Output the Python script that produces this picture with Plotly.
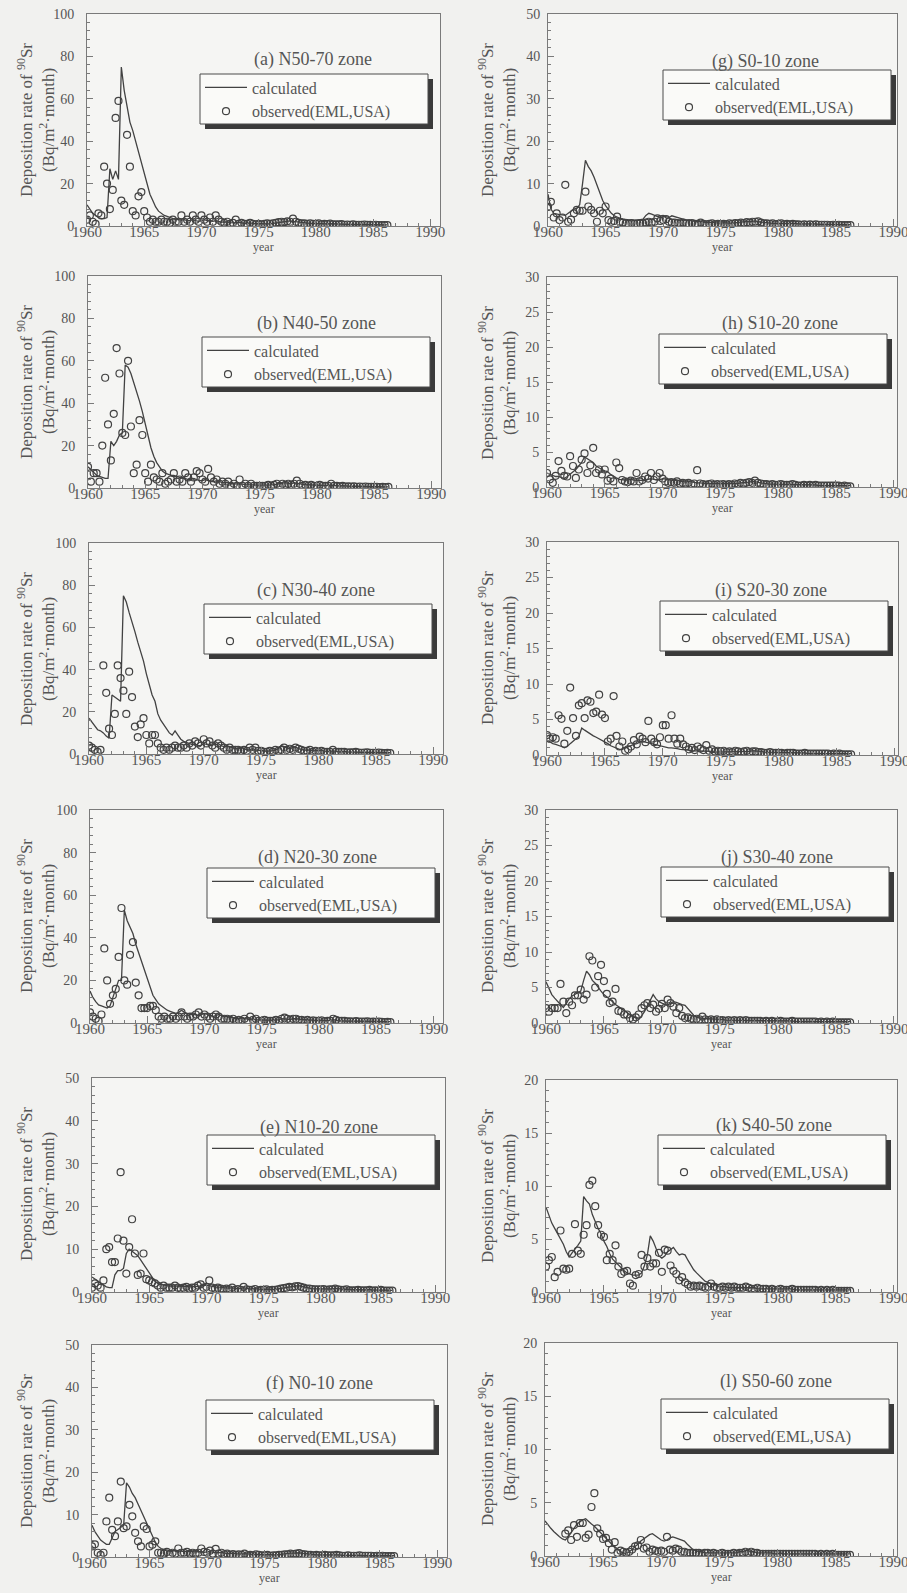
import plotly.graph_objects as go

# ---------------------------------------------------------------- data
# quarterly sampling times 1960.00 ... 1986.25 (106 samples)
YEARS = [1960 + q / 4 for q in range(106)]

ZONES = ["(a) N50-70 zone", "(b) N40-50 zone", "(c) N30-40 zone",
         "(d) N20-30 zone", "(e) N10-20 zone", "(f) N0-10 zone",
         "(g) S0-10 zone", "(h) S10-20 zone", "(i) S20-30 zone",
         "(j) S30-40 zone", "(k) S40-50 zone", "(l) S50-60 zone"]

Y_MAX = [100, 100, 100, 100, 50, 50, 50, 30, 30, 30, 20, 20]
Y_STEP = [20, 20, 20, 20, 10, 10, 10, 5, 5, 5, 5, 5]
X_TICKS = [1960, 1965, 1970, 1975, 1980, 1985, 1990]

CALC_A = [10, 8, 6, 5, 4, 3.5, 3.5, 4,
          27, 22, 26, 22, 75, 64, 56, 49,
          45, 40, 34, 30, 25, 20, 15, 12,
          9, 7, 6, 5, 4.5, 4, 3.5, 3,
          3, 2.8, 3, 2.5, 2.5, 3, 2.5, 2.2,
          2.5, 3, 2.5, 2.2, 2.2, 2.5, 2, 1.8,
          1.8, 2, 1.6, 1.5, 1.5, 1.7, 1.4, 1.3,
          1.3, 1.5, 1.2, 1.1, 1.1, 1.2, 1, 1,
          1, 1.2, 1.4, 1.6, 1.8, 2, 2.2, 2.4,
          2.2, 2, 1.7, 1.5, 1.4, 1.3, 1.2, 1.2,
          1.1, 1.2, 1, 1, 1, 1.1, 1, 0.9,
          0.9, 1, 0.8, 0.8, 0.8, 0.9, 0.7, 0.7,
          0.7, 0.8, 0.6, 0.6, 0.6, 0.7, 0.5, 0.5,
          0.5, 0.5]
OBS_A = [3, 5, 2, 1, 6, 5, 28, 20,
         8, 17, 51, 59, 12, 10, 43, 28,
         7, 5, 14, 16, 7, 4, 2, 3,
         2, 2, 3, 2, 2, 1.5, 3, 2,
         2, 5, 2, 3, 2, 5, 3, 2,
         5, 3, 2, 4, 2, 5, 3, 2,
         1.5, 2, 1, 1.5, 3, 1, 1.5, 1,
         1, 1.5, 1, 0.8, 1, 0.8, 1, 1.2,
         1, 1.3, 1.5, 1.8, 2, 1.8, 2.2, 2,
         3.5, 2, 1.5, 1.2, 1.2, 1, 1.3, 1,
         1, 1.2, 0.8, 1, 0.9, 1.1, 0.8, 0.8,
         0.8, 0.9, 0.6, 0.7, 0.6, 0.8, 0.5, 0.6,
         0.5, 0.7, 0.5, 0.5, 0.4, 0.6, 0.4, 0.4,
         0.4, 0.4]

CALC_B = [10, 8.5, 7, 6, 5.5, 5, 4.5, 4.5,
          22, 20, 22, 25, 26, 58, 57, 54,
          50, 46, 41, 36, 30, 24, 19, 15,
          12, 10, 8, 7, 6.5, 6, 6, 5.5,
          5, 5, 4.5, 4, 4, 4.5, 4, 3.5,
          3.5, 4, 3.5, 3, 3, 3.5, 3, 2.5,
          2.5, 2.5, 2, 2, 2, 2, 1.8, 1.6,
          1.6, 1.8, 1.5, 1.4, 1.4, 1.5, 1.3, 1.2,
          1.5, 1.6, 1.8, 2, 2.2, 2.5, 2.2, 2,
          2.5, 2.2, 1.8, 1.6, 1.5, 1.6, 1.4, 1.3,
          1.3, 1.4, 1.2, 1.1, 1.2, 1.4, 1.2, 1,
          1, 1.1, 0.9, 0.8, 0.8, 0.9, 0.8, 0.7,
          0.7, 0.8, 0.7, 0.6, 0.6, 0.7, 0.6, 0.5,
          0.5, 0.5]
OBS_B = [10, 3, 7, 7, 3, 20, 52, 30,
         13, 35, 66, 54, 26, 25, 60, 29,
         7, 11, 32, 25, 7, 3, 11, 5,
         4, 3, 7, 2, 3, 4, 7, 3,
         4, 3, 7, 5, 3, 5, 8, 7,
         4, 3, 9, 5, 3, 4, 2, 3,
         2, 3, 1, 2, 1, 4, 1, 2,
         1, 2, 1, 1, 1, 1, 1, 1.5,
         1, 1.5, 2, 1, 2, 1.5, 2, 1.5,
         2, 3.5, 2, 1, 1.5, 1, 1.5, 1,
         1, 1.5, 1, 1, 1, 2, 1, 1,
         0.8, 1, 0.7, 0.8, 0.7, 0.8, 0.6, 0.7,
         0.6, 0.7, 0.5, 0.6, 0.5, 0.6, 0.4, 0.5,
         0.4, 0.5]

CALC_C = [17, 15, 13, 11.5, 11, 10, 8.5, 7.5,
          28, 27, 26, 25, 75, 72, 67, 63,
          58, 53, 49, 44, 38, 33, 28, 25,
          19, 16, 14, 12, 10, 9, 11, 9,
          7, 6, 5.5, 5, 4.5, 4.5, 4, 4,
          5, 4.5, 4, 4, 6, 5, 4, 3.5,
          4, 3.5, 3, 2.5, 2.5, 3, 2.5, 2,
          2, 2.5, 2, 1.8, 1.5, 1.5, 1.3, 1.5,
          1.5, 2, 2.5, 4, 3.5, 3, 2.5, 3,
          3.5, 2.5, 2, 1.8, 1.8, 2, 1.5, 1.5,
          1.5, 1.8, 1.4, 1.2, 1.2, 1.5, 1.2, 1,
          1, 1.2, 1, 0.9, 0.9, 1, 0.8, 0.8,
          0.8, 0.9, 0.7, 0.7, 0.7, 0.8, 0.6, 0.6,
          0.6, 0.6]
OBS_C = [4, 3, 2, 1, 2, 42, 29, 12,
         9, 19, 42, 36, 30, 19, 39, 27,
         13, 8, 14, 17, 9, 5, 9, 9,
         5, 3, 2, 3, 2, 3, 4, 3,
         3, 4, 3, 5, 4, 6, 5, 4,
         7, 5, 6, 4, 3, 5, 4, 3,
         2, 3, 2, 2, 2, 1.5, 2, 1.5,
         3, 2, 3, 1.5, 1.5, 1, 1, 1.5,
         1, 2, 1.5, 2, 3, 2, 2.5, 2,
         3, 2.5, 2, 1.5, 1.5, 2, 1, 1.5,
         1, 1.5, 1, 1, 1, 2, 1, 1,
         1, 1, 0.7, 0.8, 0.8, 1, 0.7, 0.6,
         0.7, 0.8, 0.6, 0.6, 0.5, 0.7, 0.5, 0.4,
         0.5, 0.4]

CALC_D = [15, 12, 10, 8.5, 8, 7.5, 7, 8,
          12, 16, 20, 20, 53, 48, 45, 42,
          37, 33, 29, 24, 20, 16, 13, 11,
          9, 8, 7, 6, 5.5, 5, 4.5, 5,
          6, 5, 4.5, 4, 4, 4, 3.5, 4,
          4.5, 4, 3.5, 3, 3.5, 4, 3.5, 3,
          3, 2.5, 2.5, 2, 2, 2.5, 2, 1.8,
          1.8, 2, 1.5, 1.5, 1.4, 1.5, 1.2, 1.3,
          1.3, 1.5, 1.5, 2, 2, 1.8, 1.6, 2,
          2, 1.8, 1.5, 1.4, 1.4, 1.5, 1.2, 1.2,
          1.2, 1.4, 1.1, 1, 1.2, 1.6, 1.2, 1,
          1, 1.1, 0.9, 0.9, 0.9, 1, 0.8, 0.8,
          0.8, 0.9, 0.7, 0.7, 0.7, 0.8, 0.6, 0.6,
          0.6, 0.6]
OBS_D = [5, 3, 2, 1, 4, 35, 20, 9,
         13, 16, 31, 54, 20, 18, 32, 38,
         19, 13, 7, 7, 7, 8, 8, 6,
         3, 2, 3, 2, 2, 3, 2, 3,
         5, 3, 2, 3, 3, 4, 5, 3,
         4, 3, 2, 3, 4, 3, 2, 2,
         2, 1.5, 2, 1, 1.5, 1, 2, 1,
         3, 1.5, 2, 1, 1, 1.5, 1, 1,
         1, 1.5, 1, 2, 2.5, 2, 1.5, 2,
         2, 1.5, 1.5, 1, 1.5, 1, 1.2, 1,
         1, 1.2, 0.8, 1, 1, 2, 1.5, 1,
         1, 1, 0.8, 0.8, 0.7, 0.9, 0.6, 0.7,
         0.6, 0.8, 0.5, 0.6, 0.5, 0.7, 0.5, 0.4,
         0.5, 0.4]

CALC_E = [3.5, 3, 2.5, 2, 1.5, 1.2, 1, 1,
          4, 5, 5, 5.5, 9, 10, 9.5, 9,
          8.5, 7.5, 6.5, 5.5, 4.5, 3.5, 2.5, 2,
          1.8, 1.6, 1.5, 1.4, 1.4, 1.5, 1.4, 1.3,
          1.3, 1.4, 1.2, 1.2, 1.2, 1.3, 1.4, 1.5,
          1.6, 1.5, 1.3, 1.2, 1.1, 1.2, 1, 0.9,
          0.9, 1, 0.8, 0.8, 0.8, 1, 0.8, 0.7,
          0.7, 0.8, 0.7, 0.6, 0.6, 0.7, 0.6, 0.6,
          0.6, 0.7, 0.8, 1, 1.1, 1.2, 1.3, 1.4,
          1.5, 1.4, 1.2, 1, 0.9, 0.8, 0.8, 0.7,
          0.7, 0.8, 0.7, 0.7, 0.7, 0.9, 0.8, 0.7,
          0.6, 0.7, 0.6, 0.6, 0.5, 0.6, 0.5, 0.5,
          0.5, 0.6, 0.5, 0.5, 0.4, 0.5, 0.4, 0.4,
          0.4, 0.4]
OBS_E = [1, 2, 1.5, 1, 2.7, 10, 10.5, 7,
         7, 12.5, 28, 12, 4.3, 10.5, 17, 9,
         4, 4.3, 9, 3, 2.7, 2.3, 2, 1.5,
         1, 1.5, 1, 1, 1, 1.5, 1, 0.8,
         1, 1.2, 0.8, 1, 1, 1.5, 1.8, 1,
         1.2, 2.7, 1, 0.8, 1, 0.8, 0.6, 0.8,
         0.6, 1, 0.5, 0.7, 0.5, 1.2, 0.6, 0.5,
         0.5, 0.7, 0.4, 0.5, 0.5, 0.6, 0.4, 0.5,
         0.5, 0.6, 0.8, 0.9, 1, 1.2, 1.1, 1.3,
         1.4, 1.2, 1, 0.8, 0.8, 0.7, 0.6, 0.6,
         0.6, 0.7, 0.5, 0.6, 0.6, 0.8, 0.6, 0.5,
         0.5, 0.6, 0.4, 0.4, 0.4, 0.5, 0.4, 0.4,
         0.4, 0.5, 0.3, 0.4, 0.3, 0.5, 0.3, 0.3,
         0.3, 0.3]

CALC_F = [7.5, 6, 5, 4, 3.5, 3, 3, 4.5,
          6, 6.5, 7, 7.5, 17.5, 16.5, 15, 14,
          12.5, 11, 9.5, 8, 6.5, 5, 3.5, 2.5,
          2, 1.8, 1.6, 1.5, 1.5, 1.4, 1.5, 1.4,
          1.3, 1.4, 1.3, 1.2, 1.2, 1.3, 1.2, 1.1,
          1.2, 1.3, 1.1, 1, 1, 1.1, 0.9, 0.8,
          0.8, 0.9, 0.8, 0.7, 0.7, 0.8, 0.7, 0.6,
          0.6, 0.7, 0.6, 0.6, 0.5, 0.6, 0.5, 0.5,
          0.5, 0.6, 0.6, 0.7, 0.8, 0.9, 0.9, 1,
          1, 0.9, 0.8, 0.7, 0.6, 0.6, 0.5, 0.5,
          0.5, 0.6, 0.5, 0.5, 0.5, 0.6, 0.5, 0.4,
          0.4, 0.5, 0.4, 0.4, 0.4, 0.4, 0.3, 0.3,
          0.3, 0.4, 0.3, 0.3, 0.3, 0.3, 0.3, 0.3,
          0.3, 0.3]
OBS_F = [2.5, 3, 1, 0.5, 1, 8.4, 14, 6.4,
         4.9, 8.4, 17.8, 6.8, 7.2, 12.3, 9.6, 5.7,
         3.7, 2.5, 7.2, 6.6, 2.5, 2.9, 3.7, 1,
         1, 0.8, 1.2, 0.6, 1, 0.8, 2, 1,
         1, 1.2, 0.8, 1, 0.8, 1, 2, 1.2,
         1, 1.5, 0.8, 1.9, 0.8, 1, 0.6, 0.8,
         0.5, 0.7, 0.5, 0.6, 0.5, 0.8, 0.4, 0.5,
         0.4, 0.6, 0.5, 0.4, 0.4, 0.5, 0.3, 0.4,
         0.4, 0.5, 0.5, 0.6, 0.6, 0.8, 0.7, 0.8,
         0.9, 0.7, 0.6, 0.5, 0.5, 0.4, 0.5, 0.4,
         0.4, 0.5, 0.4, 0.4, 0.4, 0.5, 0.4, 0.3,
         0.3, 0.4, 0.3, 0.3, 0.3, 0.4, 0.3, 0.3,
         0.3, 0.3, 0.2, 0.3, 0.2, 0.3, 0.2, 0.2,
         0.2, 0.2]

CALC_G = [7.5, 4, 3, 2.8, 2.7, 2.6, 2.5, 3,
          3.5, 4, 4.2, 5, 10, 15.5, 14, 13,
          11.5, 9.5, 7.5, 6, 4.8, 3.8, 3, 2.4,
          2, 1.8, 1.6, 1.5, 1.5, 1.4, 1.4, 1.3,
          1.5, 1.6, 2.5, 3, 2.8, 2.5, 2.2, 2.4,
          2.5, 2.2, 2, 2.4, 2.2, 2, 1.8, 1.5,
          1.4, 1.5, 1.2, 1.1, 1, 1.1, 0.9, 0.8,
          0.8, 0.9, 0.8, 0.7, 0.7, 0.8, 0.7, 0.7,
          0.7, 0.8, 0.8, 0.9, 1, 1.1, 1, 1.1,
          1.2, 1, 0.9, 0.8, 0.7, 0.7, 0.6, 0.6,
          0.6, 0.7, 0.6, 0.6, 0.6, 0.7, 0.6, 0.5,
          0.5, 0.6, 0.5, 0.5, 0.5, 0.5, 0.4, 0.4,
          0.4, 0.5, 0.4, 0.4, 0.4, 0.4, 0.3, 0.3,
          0.3, 0.3]
OBS_G = [4.5, 5.7, 2, 3, 1.4, 2, 9.7, 1,
         1.5, 3, 3.8, 3.6, 3.6, 8.1, 4.6, 3.8,
         3, 1, 3.6, 3, 4.6, 1.4, 1, 1.2,
         2.2, 1, 0.8, 0.6, 0.5, 0.7, 0.5, 0.6,
         0.7, 0.6, 0.8, 1, 0.8, 1, 1.8, 1.2,
         1.4, 1.6, 1, 0.8, 0.8, 0.7, 0.6, 0.8,
         0.6, 0.5, 0.7, 0.5, 0.5, 0.8, 0.5, 0.4,
         0.5, 0.6, 0.4, 0.5, 0.4, 0.5, 0.4, 0.6,
         0.5, 0.7, 0.6, 0.8, 0.7, 0.9, 0.8, 1,
         1, 1.1, 0.8, 0.6, 0.6, 0.5, 0.6, 0.4,
         0.5, 0.6, 0.4, 0.5, 0.4, 0.5, 0.4, 0.4,
         0.3, 0.4, 0.3, 0.4, 0.3, 0.4, 0.3, 0.3,
         0.3, 0.3, 0.2, 0.3, 0.2, 0.3, 0.2, 0.2,
         0.2, 0.2]

CALC_H = [2, 1.8, 1.6, 1.5, 1.5, 1.4, 1.2, 1.5,
          1.8, 2.2, 2.5, 3, 3.5, 4.3, 4, 3.8,
          3.5, 3, 2.7, 2.5, 2.3, 2.2, 1.8, 1.5,
          1.3, 1.1, 1, 1, 1, 1.1, 1, 1,
          1, 1, 0.9, 1.1, 1.2, 1.1, 1, 1,
          1.2, 1.1, 1, 0.9, 0.9, 1, 0.8, 0.8,
          0.7, 0.8, 0.7, 0.6, 0.6, 0.6, 0.5, 0.5,
          0.5, 0.5, 0.4, 0.4, 0.4, 0.4, 0.4, 0.4,
          0.4, 0.5, 0.5, 0.6, 0.6, 0.7, 0.7, 0.8,
          0.8, 0.7, 0.6, 0.5, 0.5, 0.4, 0.4, 0.4,
          0.4, 0.4, 0.4, 0.3, 0.3, 0.4, 0.3, 0.3,
          0.3, 0.3, 0.3, 0.3, 0.3, 0.3, 0.2, 0.2,
          0.2, 0.3, 0.2, 0.2, 0.2, 0.2, 0.2, 0.2,
          0.2, 0.2]
OBS_H = [2, 1.1, 0.6, 1.6, 3.7, 2.3, 1.6, 1.5,
         4.4, 3, 1.3, 2.5, 3.9, 4.8, 2, 3.1,
         5.6, 2, 2.5, 1.8, 2.5, 0.9, 1.2, 0.8,
         3.5, 2.7, 1, 0.8, 0.7, 0.9, 0.8, 2,
         0.8, 1, 1.5, 1.2, 2, 1, 1.5, 2,
         1.2, 0.8, 0.6, 0.7, 0.6, 0.8, 0.5, 0.6,
         0.5, 0.6, 0.4, 0.5, 2.4, 0.5, 0.4, 0.3,
         0.4, 0.5, 0.3, 0.4, 0.3, 0.4, 0.3, 0.4,
         0.3, 0.5, 0.4, 0.6, 0.5, 0.6, 0.7, 0.6,
         0.9, 0.6, 0.5, 0.4, 0.4, 0.3, 0.4, 0.3,
         0.3, 0.4, 0.3, 0.3, 0.3, 0.4, 0.3, 0.2,
         0.2, 0.3, 0.2, 0.3, 0.2, 0.3, 0.2, 0.2,
         0.2, 0.2, 0.2, 0.2, 0.2, 0.2, 0.1, 0.2,
         0.1, 0.1]

CALC_I = [2.1, 1.8, 1.6, 1.5, 1.4, 1.2, 1, 1.2,
          1.6, 2, 2.3, 2.6, 3.8, 3.5, 3.2, 3,
          2.7, 2.5, 2.3, 2.1, 1.9, 1.6, 1.3, 1.1,
          0.9, 0.8, 0.8, 1, 1.1, 1.3, 1.5, 1.6,
          1.8, 2, 1.8, 1.7, 1.6, 1.5, 1.3, 1.2,
          1.2, 1.1, 1, 1, 1, 0.9, 0.8, 0.8,
          0.7, 0.7, 0.6, 0.6, 0.6, 0.6, 0.5, 0.5,
          0.5, 0.5, 0.4, 0.4, 0.4, 0.4, 0.4, 0.4,
          0.4, 0.4, 0.4, 0.5, 0.5, 0.5, 0.5, 0.6,
          0.6, 0.5, 0.5, 0.4, 0.4, 0.4, 0.3, 0.3,
          0.3, 0.3, 0.3, 0.3, 0.3, 0.3, 0.3, 0.3,
          0.3, 0.3, 0.2, 0.2, 0.2, 0.2, 0.2, 0.2,
          0.2, 0.2, 0.2, 0.2, 0.2, 0.2, 0.2, 0.2,
          0.2, 0.2]
OBS_I = [2.8, 2.3, 2.5, 2.3, 5.6, 5.1, 1.6, 3.4,
         9.5, 5.2, 2.7, 7, 7.3, 5.2, 7.7, 7.5,
         5.9, 6.1, 8.5, 5.7, 5.2, 1.9, 2.3, 8.3,
         2.7, 1.2, 1.9, 0.6, 0.8, 1.2, 2.1, 1.5,
         2.6, 2.3, 1.8, 4.8, 2.3, 1.8, 1.5, 2.5,
         4.2, 4.2, 2.3, 5.6, 2.3, 1.6, 2.3, 1.5,
         1.2, 0.8, 1, 0.7, 1.2, 0.9, 0.7, 1.4,
         0.6, 0.8, 0.5, 0.6, 0.5, 0.6, 0.4, 0.5,
         0.4, 0.6, 0.5, 0.4, 0.5, 0.6, 0.4, 0.5,
         0.5, 0.4, 0.4, 0.3, 0.3, 0.4, 0.3, 0.3,
         0.3, 0.3, 0.2, 0.3, 0.3, 0.3, 0.2, 0.2,
         0.2, 0.3, 0.2, 0.2, 0.2, 0.2, 0.2, 0.2,
         0.2, 0.2, 0.1, 0.2, 0.1, 0.2, 0.1, 0.1,
         0.1, 0.1]

CALC_J = [5.8, 4.8, 4, 3.5, 3, 2.6, 2.2, 2.8,
          3.4, 3.8, 4, 4.2, 4.5, 6, 7.3, 6.8,
          6, 5.6, 5, 4.5, 4, 3.7, 3.4, 3,
          2.6, 2.3, 2, 1.7, 1.4, 1.1, 0.9, 0.7,
          0.5, 1, 1.6, 2.4, 3.2, 4, 3.4, 3,
          2.8, 2.6, 2.5, 2.8, 3, 2.9, 2.7, 2.6,
          2.5, 2, 1.5, 1.1, 0.8, 0.7, 0.6, 0.6,
          0.6, 0.6, 0.5, 0.5, 0.5, 0.5, 0.4, 0.4,
          0.4, 0.4, 0.4, 0.4, 0.4, 0.4, 0.4, 0.4,
          0.4, 0.3, 0.3, 0.3, 0.3, 0.3, 0.3, 0.3,
          0.3, 0.3, 0.3, 0.3, 0.3, 0.3, 0.2, 0.2,
          0.2, 0.2, 0.2, 0.2, 0.2, 0.2, 0.2, 0.2,
          0.2, 0.2, 0.2, 0.2, 0.2, 0.2, 0.2, 0.2,
          0.2, 0.2]
OBS_J = [2.1, 1.6, 2.1, 2.1, 2.1, 5.5, 3, 1.4,
         3, 2.5, 3.9, 3.9, 4.7, 3.3, 4, 9.4,
         8.8, 5, 6.6, 8.2, 5.9, 4.1, 2.8, 3,
         4.8, 1.7, 1.6, 1.2, 1.2, 0.7, 0.5, 0.8,
         1.2, 2.1, 2.5, 2.8, 2.1, 2.6, 1.6, 2,
         2.7, 2.1, 3.3, 2.8, 2.3, 1.4, 2.1, 1,
         0.7, 0.8, 0.6, 0.5, 0.6, 0.5, 0.9, 0.5,
         0.4, 0.5, 0.4, 0.5, 0.4, 0.4, 0.3, 0.4,
         0.3, 0.4, 0.3, 0.4, 0.3, 0.4, 0.3, 0.3,
         0.3, 0.3, 0.3, 0.2, 0.3, 0.2, 0.3, 0.2,
         0.2, 0.3, 0.2, 0.2, 0.2, 0.3, 0.2, 0.2,
         0.2, 0.2, 0.2, 0.2, 0.2, 0.2, 0.1, 0.2,
         0.1, 0.2, 0.1, 0.2, 0.1, 0.1, 0.1, 0.1,
         0.1, 0.1]

CALC_K = [8, 7.2, 6.5, 6, 5.5, 5, 4.5, 3.8,
          3.3, 3.7, 4, 4.4, 4.8, 9, 8.6, 8.3,
          7.3, 6.6, 6, 5.5, 4.8, 4.3, 3.6, 3.1,
          2.8, 2.5, 2.2, 2, 1.8, 1.7, 1.6, 1.6,
          1.6, 1.8, 2.5, 3.5, 5.3, 4.8, 4, 3.4,
          3.2, 3.4, 3.8, 4, 4.2, 3.8, 3.5, 3.6,
          3.5, 3, 2.5, 2.1, 1.8, 1.5, 1.2, 1,
          0.9, 0.8, 0.7, 0.6, 0.5, 0.5, 0.5, 0.4,
          0.4, 0.4, 0.4, 0.4, 0.4, 0.4, 0.4, 0.4,
          0.4, 0.3, 0.3, 0.3, 0.3, 0.3, 0.3, 0.3,
          0.3, 0.3, 0.3, 0.3, 0.3, 0.3, 0.2, 0.2,
          0.2, 0.2, 0.2, 0.2, 0.2, 0.2, 0.2, 0.2,
          0.2, 0.2, 0.2, 0.2, 0.2, 0.2, 0.2, 0.2,
          0.2, 0.2]
OBS_K = [2.4, 3, 3.3, 1.4, 1.9, 5.8, 2.2, 2.1,
         2.2, 3.6, 6.4, 3.9, 3.6, 5.4, 6.3, 10.1,
         10.5, 8.1, 6.3, 5.4, 5.2, 3, 3.6, 3,
         4.4, 2.4, 1.7, 1.9, 2, 0.8, 0.6, 1.6,
         1.7, 3.5, 2.4, 3.2, 2.4, 2.7, 2.7, 3.7,
         1.9, 4, 3.9, 2.5, 2, 1.7, 1.1, 1.4,
         0.9, 0.7, 0.5, 0.6, 0.5, 0.6, 0.5, 0.4,
         0.5, 0.8, 0.5, 0.4, 0.4, 0.5, 0.4, 0.5,
         0.4, 0.5, 0.4, 0.4, 0.4, 0.5, 0.4, 0.3,
         0.3, 0.4, 0.3, 0.3, 0.3, 0.2, 0.3, 0.2,
         0.2, 0.3, 0.2, 0.2, 0.2, 0.3, 0.2, 0.2,
         0.2, 0.2, 0.2, 0.2, 0.2, 0.2, 0.1, 0.2,
         0.1, 0.2, 0.1, 0.2, 0.1, 0.1, 0.1, 0.1,
         0.1, 0.1]

CALC_L = [3.3, 2.9, 2.6, 2.3, 2, 1.8, 1.6, 1.5,
          1.8, 2.2, 2.6, 3, 3.2, 3.4, 3.5, 3.2,
          3, 2.8, 2.5, 2.2, 2, 1.7, 1.4, 1.1,
          0.9, 0.6, 0.4, 0.3, 0.2, 0.4, 0.6, 0.9,
          1.1, 1.4, 1.6, 1.8, 2, 2.1, 1.9, 1.7,
          1.5, 1.4, 1.5, 1.7, 1.8, 1.7, 1.6, 1.5,
          1.4, 1.1, 0.8, 0.6, 0.5, 0.4, 0.4, 0.3,
          0.3, 0.3, 0.3, 0.3, 0.3, 0.3, 0.3, 0.3,
          0.3, 0.3, 0.3, 0.4, 0.4, 0.5, 0.5, 0.4,
          0.4, 0.3, 0.3, 0.3, 0.3, 0.3, 0.3, 0.2,
          0.2, 0.3, 0.2, 0.2, 0.2, 0.2, 0.2, 0.2,
          0.2, 0.2, 0.2, 0.2, 0.2, 0.2, 0.2, 0.2,
          0.2, 0.2, 0.2, 0.2, 0.2, 0.2, 0.2, 0.2,
          0.2, 0.2]
OBS_L = [None, None, None, None, None, None, None, 2.1,
         2.4, 1.5, 2.9, 1.8, 3.1, 3.1, 1.7, 2,
         4.6, 5.9, 2.6, 2.1, 1.6, 1.7, 1.2, 0.6,
         1.3, 0.3, 0.5, 0.4, 0.3, 0.4, 0.6, 0.9,
         1, 1.5, 0.7, 0.8, 0.4, 0.6, 0.5, 0.4,
         0.5, 0.4, 1.8, 0.6, 0.5, 0.7, 0.6, 0.4,
         0.4, 0.3, 0.3, 0.3, 0.3, 0.3, 0.2, 0.3,
         0.3, 0.2, 0.3, 0.2, 0.2, 0.3, 0.2, 0.2,
         0.2, 0.3, 0.2, 0.3, 0.3, 0.4, 0.3, 0.4,
         0.3, 0.3, 0.2, 0.2, 0.2, 0.2, 0.2, 0.2,
         0.2, 0.2, 0.2, 0.2, 0.2, 0.2, 0.2, 0.2,
         0.2, 0.2, 0.2, 0.2, 0.2, 0.2, 0.1, 0.2,
         0.1, 0.2, 0.1, 0.2, 0.1, 0.1, 0.1, 0.1,
         0.1, 0.1]

CALC = [CALC_A, CALC_B, CALC_C, CALC_D, CALC_E, CALC_F,
        CALC_G, CALC_H, CALC_I, CALC_J, CALC_K, CALC_L]
OBS = [OBS_A, OBS_B, OBS_C, OBS_D, OBS_E, OBS_F,
       OBS_G, OBS_H, OBS_I, OBS_J, OBS_K, OBS_L]

CALC_NAME = "calculated"
OBS_NAME = "observed(EML,USA)"

# ---------------------------------------------------------------- layout (pixels)
W, H = 907, 1593
# plot frame: left, right, top, bottom
BOX = [(87, 440, 14, 226), (88, 441, 276, 488), (89, 443, 543, 754),
       (90, 443, 810, 1023), (92, 445, 1078, 1292), (92, 447, 1345, 1557),
       (548, 897, 14, 226), (547, 897, 277, 487), (547, 898, 542, 755),
       (546, 897, 810, 1023), (546, 897, 1080, 1292), (545, 897, 1343, 1556)]
TITLE_XY = [(313, 60), (316, 323), (316, 590), (317, 858), (319, 1127), (319, 1383),
            (765, 62), (780, 323), (771, 590), (777, 858), (774, 1125), (776, 1381)]
# legend frame (top-left corner)
LEGEND_XY = [(200, 74), (202, 337), (204, 604), (207, 868), (207, 1135), (206, 1400),
             (663, 70), (659, 334), (660, 601), (661, 867), (658, 1135), (661, 1399)]
LEG_W, LEG_H = 228, 50
SHADOW = 5

FONT = "Liberation Serif"
TEXT = "#555555"
INK = "#424242"
AXC = "#7a7a7a"
PAPER = "#f1f1ef"
PLOTBG = "#f5f5f3"

fig = go.Figure()
shapes, annotations = [], []
lay = {}


def px(xp):
    return xp / W


def py(yp):
    return 1 - yp / H


for i in range(12):
    n = i + 1
    xa = "x" if n == 1 else f"x{n}"
    ya = "y" if n == 1 else f"y{n}"
    lg = "legend" if n == 1 else f"legend{n}"
    l, r, t, b = BOX[i]
    right_col = i >= 6

    fig.add_trace(go.Scatter(
        x=YEARS, y=CALC[i], mode="lines", name=CALC_NAME,
        line=dict(color=INK, width=1.3), xaxis=xa, yaxis=ya, legend=lg,
        hoverinfo="skip"))
    fig.add_trace(go.Scatter(
        x=YEARS, y=OBS[i], mode="markers", name=OBS_NAME,
        marker=dict(symbol="circle-open", size=7, color=INK, line=dict(width=1.2)),
        xaxis=xa, yaxis=ya, legend=lg, hoverinfo="skip"))

    lay["xaxis" if n == 1 else f"xaxis{n}"] = dict(
        domain=[px(l), px(r)], anchor=ya, automargin=False,
        range=[1960, 1990.3 if right_col else 1990.85],
        tickmode="array", tickvals=X_TICKS,
        ticks="inside", ticklen=7, tickwidth=1, tickcolor=AXC,
        minor=dict(ticks="inside", ticklen=3.5, dtick=1, tick0=1960, tickcolor=AXC),
        showline=True, mirror=True, linecolor=AXC, linewidth=1,
        showgrid=False, zeroline=False,
        tickfont=dict(family=FONT, size=15, color=TEXT),
        ticklabelstandoff=-8, ticklabeloverflow="allow")
    ymax, ystep = Y_MAX[i], Y_STEP[i]
    lay["yaxis" if n == 1 else f"yaxis{n}"] = dict(
        domain=[py(b), py(t)], anchor=xa, range=[0, ymax], automargin=False,
        tickmode="linear", tick0=0, dtick=ystep,
        ticks="inside", ticklen=6, tickwidth=1, tickcolor=AXC,
        minor=dict(ticks="inside", ticklen=3, dtick=ystep / 5, tick0=0, tickcolor=AXC),
        showline=True, mirror=True, linecolor=AXC, linewidth=1,
        showgrid=False, zeroline=False,
        tickfont=dict(family=FONT, size=14, color=TEXT),
        ticklabelstandoff=4 if right_col else 9, ticklabeloverflow="allow")

    # legend frame with drop shadow, legend entries drawn on top of it
    bx, by = LEGEND_XY[i]
    shapes.append(dict(
        type="rect", xref="paper", yref="paper", layer="above",
        x0=px(bx + SHADOW), x1=px(bx + LEG_W + SHADOW),
        y0=py(by + LEG_H + SHADOW), y1=py(by + SHADOW),
        fillcolor="#3a3a3a", line=dict(width=0)))
    shapes.append(dict(
        type="rect", xref="paper", yref="paper", layer="above",
        x0=px(bx), x1=px(bx + LEG_W), y0=py(by + LEG_H), y1=py(by),
        fillcolor="#fafaf8", line=dict(color="#4a4a4a", width=1)))
    lay[lg] = dict(
        x=px(bx), y=py(by - 3.5), xanchor="left", yanchor="top",
        bgcolor="rgba(0,0,0,0)", borderwidth=0,
        font=dict(family=FONT, size=16, color=TEXT),
        tracegroupgap=0, itemwidth=42)

    tx, tyy = TITLE_XY[i]
    annotations.append(dict(
        text=ZONES[i], x=px(tx), y=py(tyy), xref="paper", yref="paper",
        showarrow=False, xanchor="center", yanchor="middle",
        font=dict(family=FONT, size=18, color=TEXT)))
    annotations.append(dict(
        text="Deposition rate of <sup>90</sup>Sr<br>(Bq/m<sup>2</sup>·month)",
        x=px(497 if right_col else 36), y=py(t + 106), xref="paper", yref="paper",
        showarrow=False, textangle=-90, xanchor="center", yanchor="middle",
        font=dict(family=FONT, size=17, color=TEXT)))
    annotations.append(dict(
        text="year", x=px((l + r) / 2), y=py(b + 21), xref="paper", yref="paper",
        showarrow=False, xanchor="center", yanchor="middle",
        font=dict(family=FONT, size=12, color=TEXT)))

fig.update_layout(
    width=W, height=H, margin=dict(l=0, r=0, t=0, b=0, autoexpand=False),
    paper_bgcolor=PAPER, plot_bgcolor=PLOTBG,
    showlegend=True, shapes=shapes, annotations=annotations,
    font=dict(family=FONT, color=TEXT),
    **lay)

fig.write_html("out.html", config={"displayModeBar": False},
               post_script="document.body.style.margin='0';")
